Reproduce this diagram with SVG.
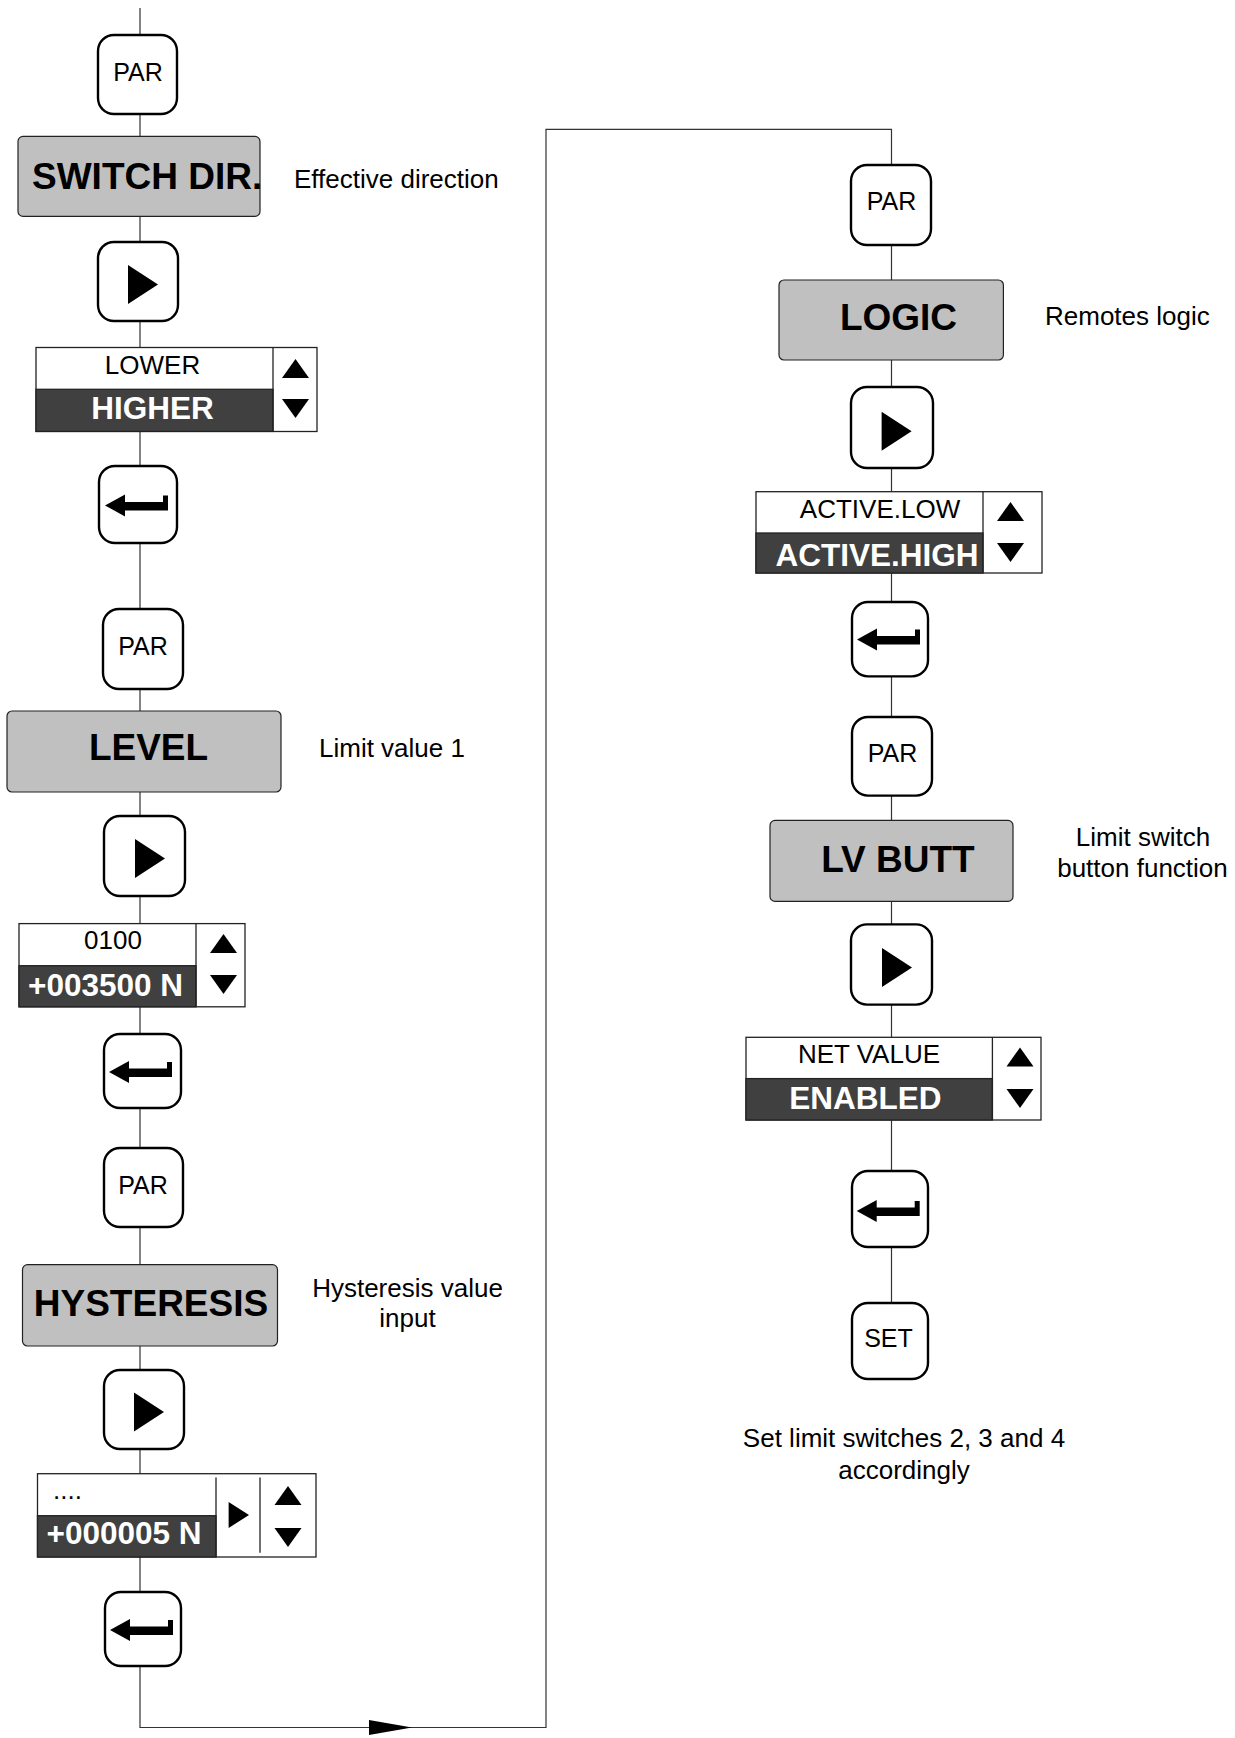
<svg xmlns="http://www.w3.org/2000/svg" width="1235" height="1738" viewBox="0 0 1235 1738">
<defs>
<style>
text{font-family:"Liberation Sans",Arial,Helvetica,sans-serif;fill:#000}
.btn{fill:#fff;stroke:#000;stroke-width:2.4}
.title{fill:#c0c0c0;stroke:#222;stroke-width:1.2}
.tt{font-size:37px;font-weight:bold}
.desc{font-size:26px}
.vbox{fill:#fff;stroke:#222;stroke-width:1.3}
.dark{fill:#404040;stroke:#222;stroke-width:1.3}
.vl{font-size:26px}
.vh{font-size:31.5px;font-weight:bold;fill:#fff}
.div{stroke:#222;stroke-width:1.3}
.conn{fill:none;stroke:#333;stroke-width:1.2}
.sym{fill:#000}
.pt{font-size:25px}
</style>
<path id="enter" d="M0,0 L20,-11 L20,-3.5 L58,-3.5 L58,-10 L63,-10 L63,5 L20,5 L20,11 Z"/>
<path id="play" d="M0,0 L30,19.5 L0,39 Z"/>
<path id="up" d="M0,19 L13.5,0 L27,19 Z"/>
<path id="down" d="M0,0 L27,0 L13.5,19 Z"/>
</defs>
<rect width="1235" height="1738" fill="#fff"/>

<g id="connectors">
<polyline class="conn" points="140,8 140,1727.5 546,1727.5 546,129.3 891.5,129.3 891.5,1303"/>
<path d="M369,1720 L412,1727.5 L369,1735 Z" fill="#000"/>
</g>

<!-- Left column -->
<g id="par1"><rect class="btn" x="98" y="35" width="79" height="79" rx="16"/><text class="pt" x="138" y="81" text-anchor="middle">PAR</text></g>
<g id="switchdir"><rect class="title" x="18" y="136.4" width="242" height="80" rx="5"/><text class="tt" x="32" y="189">SWITCH DIR.</text></g>
<g id="desc-switchdir"><text class="desc" x="294" y="187.5">Effective direction</text></g>
<g id="play1"><rect class="btn" x="98" y="242" width="80" height="79" rx="16"/><use href="#play" class="sym" x="128" y="265"/></g>
<g id="val1">
<rect class="vbox" x="36" y="347.5" width="281" height="84"/>
<rect class="dark" x="36" y="389.3" width="237" height="42.1"/>
<line class="div" x1="273" y1="347.5" x2="273" y2="431.4"/>
<text class="vl" x="152.5" y="374.3" text-anchor="middle">LOWER</text>
<text class="vh" x="152.5" y="418.6" text-anchor="middle">HIGHER</text>
<use href="#up" class="sym" x="282" y="359"/><use href="#down" class="sym" x="282" y="399"/>
</g>
<g id="enter1"><rect class="btn" x="99" y="466" width="78" height="77" rx="16"/><use href="#enter" class="sym" x="105" y="505.4"/></g>

<g id="par2"><rect class="btn" x="103" y="609" width="80" height="80" rx="16"/><text class="pt" x="143" y="655" text-anchor="middle">PAR</text></g>
<g id="level"><rect class="title" x="7" y="711" width="274" height="81" rx="5"/><text class="tt" x="148.5" y="759.6" text-anchor="middle">LEVEL</text></g>
<g id="desc-level"><text class="desc" x="319" y="757">Limit value 1</text></g>
<g id="play2"><rect class="btn" x="104" y="816" width="81" height="80" rx="16"/><use href="#play" class="sym" x="135" y="839"/></g>
<g id="val2">
<rect class="vbox" x="19" y="923.6" width="226" height="83.2"/>
<rect class="dark" x="19" y="965.7" width="177" height="41.1"/>
<line class="div" x1="196" y1="923.6" x2="196" y2="1006.8"/>
<text class="vl" x="113" y="949" text-anchor="middle">0100</text>
<text class="vh" x="105.5" y="996" text-anchor="middle">+003500 N</text>
<use href="#up" class="sym" x="210" y="934"/><use href="#down" class="sym" x="210" y="975"/>
</g>
<g id="enter2"><rect class="btn" x="104" y="1034" width="77" height="74" rx="16"/><use href="#enter" class="sym" x="109" y="1072"/></g>

<g id="par3"><rect class="btn" x="104" y="1148" width="79" height="79" rx="16"/><text class="pt" x="143" y="1193.5" text-anchor="middle">PAR</text></g>
<g id="hysteresis"><rect class="title" x="22.5" y="1264.7" width="255" height="81.3" rx="5"/><text class="tt" x="151" y="1316" text-anchor="middle">HYSTERESIS</text></g>
<g id="desc-hysteresis"><text class="desc" x="407.5" y="1297" text-anchor="middle">Hysteresis value</text><text class="desc" x="407.5" y="1327" text-anchor="middle">input</text></g>
<g id="play3"><rect class="btn" x="104" y="1370" width="80" height="79" rx="16"/><use href="#play" class="sym" x="134" y="1392.5"/></g>
<g id="val3">
<rect class="vbox" x="37.5" y="1473.7" width="278.5" height="83.3"/>
<rect class="dark" x="37.5" y="1515.7" width="178.5" height="41.3"/>
<line class="div" x1="216" y1="1477.5" x2="216" y2="1557"/>
<line class="div" x1="260" y1="1477.5" x2="260" y2="1552.7"/>
<text class="vl" x="53" y="1499">....</text>
<text class="vh" x="124" y="1543.5" text-anchor="middle">+000005 N</text>
<path class="sym" d="M228.6,1502 L249,1515 L228.6,1528 Z"/>
<use href="#up" class="sym" x="274.5" y="1486"/><use href="#down" class="sym" x="274.5" y="1528"/>
</g>
<g id="enter3"><rect class="btn" x="105" y="1592" width="76" height="74" rx="16"/><use href="#enter" class="sym" x="110" y="1630"/></g>

<!-- Right column -->
<g id="par4"><rect class="btn" x="851" y="165" width="80" height="80" rx="16"/><text class="pt" x="891.5" y="210" text-anchor="middle">PAR</text></g>
<g id="logic"><rect class="title" x="779" y="280" width="224.4" height="80" rx="5"/><text class="tt" x="898.5" y="330" text-anchor="middle">LOGIC</text></g>
<g id="desc-logic"><text class="desc" x="1045" y="325">Remotes logic</text></g>
<g id="play4"><rect class="btn" x="851" y="387" width="82" height="81" rx="16"/><use href="#play" class="sym" x="881.6" y="411.7"/></g>
<g id="val4">
<rect class="vbox" x="756" y="491.7" width="286" height="81.3"/>
<rect class="dark" x="756" y="533" width="227" height="40"/>
<line class="div" x1="983" y1="491.7" x2="983" y2="573"/>
<text class="vl" x="880" y="518" text-anchor="middle">ACTIVE.LOW</text>
<text class="vh" x="877" y="566" text-anchor="middle">ACTIVE.HIGH</text>
<use href="#up" class="sym" x="997" y="502"/><use href="#down" class="sym" x="997" y="543"/>
</g>
<g id="enter5"><rect class="btn" x="852" y="602" width="76" height="74.4" rx="16"/><use href="#enter" class="sym" x="857" y="639.6"/></g>

<g id="par5"><rect class="btn" x="852" y="717" width="80" height="78.6" rx="16"/><text class="pt" x="892.5" y="762" text-anchor="middle">PAR</text></g>
<g id="lvbutt"><rect class="title" x="770" y="820.4" width="243" height="81" rx="5"/><text class="tt" x="898" y="872" text-anchor="middle">LV BUTT</text></g>
<g id="desc-lvbutt"><text class="desc" x="1143" y="846" text-anchor="middle">Limit switch</text><text class="desc" x="1142.5" y="877" text-anchor="middle">button function</text></g>
<g id="play5"><rect class="btn" x="851" y="924.4" width="81" height="80.2" rx="16"/><use href="#play" class="sym" x="882" y="948"/></g>
<g id="val5">
<rect class="vbox" x="746" y="1037.3" width="295" height="82.7"/>
<rect class="dark" x="746" y="1078.6" width="246.4" height="41.4"/>
<line class="div" x1="992.4" y1="1037.3" x2="992.4" y2="1120"/>
<text class="vl" x="869" y="1063" text-anchor="middle">NET VALUE</text>
<text class="vh" x="865.5" y="1109" text-anchor="middle">ENABLED</text>
<use href="#up" class="sym" x="1006.5" y="1047.5"/><use href="#down" class="sym" x="1006.5" y="1089"/>
</g>
<g id="enter6"><rect class="btn" x="852" y="1171" width="76" height="76" rx="16"/><use href="#enter" class="sym" x="856.7" y="1211"/></g>
<g id="set"><rect class="btn" x="852" y="1303" width="76" height="76" rx="16"/><text class="pt" x="888.5" y="1347" text-anchor="middle">SET</text></g>
<g id="desc-set"><text class="desc" x="904" y="1447" text-anchor="middle">Set limit switches 2, 3 and 4</text><text class="desc" x="904" y="1479" text-anchor="middle">accordingly</text></g>
</svg>
